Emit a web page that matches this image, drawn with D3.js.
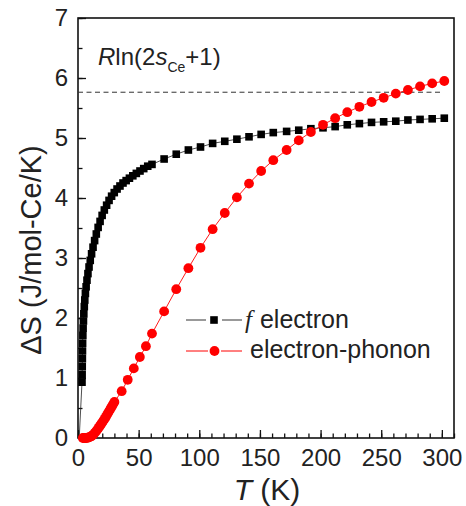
<!DOCTYPE html>
<html lang="en">
<head>
<meta charset="utf-8">
<script src="https://d3js.org/d3.v7.min.js"></script>
<style>
body { margin: 0; background: #fff; font-family: Arial, "Liberation Sans", sans-serif; }
.tick text { font-family: Arial, "Liberation Sans", sans-serif; fill: #222; }
</style>
</head>
<body>
<div id="chart"></div>
<script>
// f electron entropy (black squares)
var fElecT = [1, 3.3, 3.4, 3.5, 3.6, 3.7, 3.8, 4.0, 4.2, 4.5, 4.8, 5.2, 5.6, 6.1, 6.7, 7.4, 8.2, 9.1, 10.1,
  11.2, 12.4, 13.7, 15.1, 16.6, 18.2, 19.9, 21.7, 23.6, 25.6, 27.7, 29.9, 32.2, 34.6, 37.1, 39.7, 42.4,
  45.2, 48.1, 51.1, 54.2, 57.5, 61, 71, 81, 91, 101, 111, 121, 131, 141, 151, 161, 172, 182, 192, 202,
  212, 222, 232, 242, 252, 262, 272, 282, 292, 302];
var fElecS = [0, 0.93, 1.06, 1.19, 1.32, 1.45, 1.58, 1.71, 1.83, 1.95, 2.07, 2.19, 2.30, 2.41, 2.52, 2.63, 2.74, 2.85, 2.96,
  3.07, 3.18, 3.29, 3.40, 3.51, 3.61, 3.71, 3.80, 3.88, 3.96, 4.03, 4.09, 4.15, 4.20, 4.25, 4.29, 4.33,
  4.37, 4.41, 4.45, 4.49, 4.53, 4.56, 4.65, 4.73, 4.80, 4.85, 4.91, 4.945, 4.98, 5.02, 5.06, 5.09, 5.11, 5.13, 5.155, 5.17,
  5.19, 5.22, 5.24, 5.26, 5.27, 5.28, 5.30, 5.31, 5.32, 5.33];

// electron-phonon entropy (red circles)
var ePhonT = [4, 5, 6, 7, 8, 9, 10, 11, 12, 13, 14, 15, 16, 17, 18, 19, 20, 21, 22, 23, 24, 25, 26, 27, 28, 29, 30,
  36, 41, 46, 51, 56, 61, 71, 81, 91, 101, 111, 121, 131, 141, 151, 161, 172, 182, 192, 202, 212, 222,
  232, 242, 252, 262, 272, 282, 292, 302];
var ePhonS = [0, 0, 0, 0, 0.005, 0.01, 0.02, 0.03, 0.045, 0.065, 0.09, 0.115, 0.14, 0.17, 0.20, 0.23, 0.26, 0.29,
  0.32, 0.355, 0.39, 0.425, 0.46, 0.495, 0.53, 0.565, 0.60,
  0.78, 0.97, 1.16, 1.35, 1.53, 1.74, 2.11, 2.48, 2.83, 3.17, 3.48, 3.75, 4.01, 4.24, 4.45, 4.63, 4.80, 4.96,
  5.10, 5.22, 5.33, 5.43, 5.52, 5.60, 5.67, 5.74, 5.80, 5.86, 5.91, 5.95];

var rLn2 = 8.314 * Math.log(2);   // R ln(2 s_Ce + 1), s = 1/2
var xTicks = [0, 50, 100, 150, 200, 250, 300];
var yTicks = [0, 1, 2, 3, 4, 5, 6, 7];
var legendLabels = ["electron", "electron-phonon"];

var width = 466, height = 506;
var plotL = 78, plotR = 454, plotT = 18, plotB = 438;

var svg = d3.select("#chart").append("svg")
  .attr("width", width)
  .attr("height", height);

var x = d3.scaleLinear().domain([0, 310]).range([plotL, plotR]);
var y = d3.scaleLinear().domain([0, 7]).range([plotB, plotT]);

// minor ticks
svg.append("g")
  .attr("transform", "translate(0," + plotB + ")")
  .call(d3.axisBottom(x).tickValues(d3.range(0, 311, 10)).tickSizeInner(-4.5).tickSizeOuter(0).tickFormat(""))
  .call(function(g) { g.select(".domain").remove(); });
svg.append("g")
  .attr("transform", "translate(" + plotL + ",0)")
  .call(d3.axisLeft(y).tickValues(d3.range(0, 7.01, 0.5)).tickSizeInner(-4.5).tickSizeOuter(0).tickFormat(""))
  .call(function(g) { g.select(".domain").remove(); });

// major ticks + labels
var xAxis = svg.append("g")
  .attr("transform", "translate(0," + plotB + ")")
  .call(d3.axisBottom(x).tickValues(xTicks).tickSizeInner(-8).tickSizeOuter(0).tickPadding(11).tickFormat(d3.format("d")));
xAxis.select(".domain").remove();
xAxis.selectAll("text").style("font-size", "24px");

var yAxis = svg.append("g")
  .attr("transform", "translate(" + plotL + ",0)")
  .call(d3.axisLeft(y).tickValues(yTicks).tickSizeInner(-8).tickSizeOuter(0).tickPadding(10).tickFormat(d3.format("d")));
yAxis.select(".domain").remove();
yAxis.selectAll("text").style("font-size", "24px");

svg.selectAll(".tick line").attr("stroke", "#111").attr("stroke-width", 1.3);

// frame
svg.append("rect")
  .attr("x", plotL).attr("y", plotT)
  .attr("width", plotR - plotL).attr("height", plotB - plotT)
  .attr("fill", "none").attr("stroke", "#111").attr("stroke-width", 1.6);

// dashed limit line
svg.append("line")
  .attr("x1", x(0)).attr("x2", x(300))
  .attr("y1", y(rLn2)).attr("y2", y(rLn2))
  .attr("stroke", "#333").attr("stroke-width", 1)
  .attr("stroke-dasharray", "5,3.5");

var ann = svg.append("text")
  .attr("x", 98).attr("y", 65)
  .style("font-size", "24px").attr("fill", "#222");
ann.append("tspan").style("font-style", "italic").text("R");
ann.append("tspan").text("ln(2");
ann.append("tspan").style("font-style", "italic").text("s");
ann.append("tspan").attr("dy", 7).style("font-size", "14px").text("Ce");
ann.append("tspan").attr("dy", -7).text("+1)");

var fData = fElecT.map(function(t, i) { return [t, fElecS[i]]; });
var eData = ePhonT.map(function(t, i) { return [t, ePhonS[i]]; });

var line = d3.line()
  .x(function(d) { return x(d[0]); })
  .y(function(d) { return y(d[1]); });

// f electron
svg.append("path").datum(fData)
  .attr("d", line).attr("fill", "none")
  .attr("stroke", "#222").attr("stroke-width", 0.8);
var sq = 7.6;
svg.append("g").selectAll("rect")
  .data(fData.filter(function(d) { return d[1] > 0; }))
  .enter().append("rect")
  .attr("x", function(d) { return x(d[0]) - sq / 2; })
  .attr("y", function(d) { return y(d[1]) - sq / 2; })
  .attr("width", sq).attr("height", sq)
  .attr("fill", "#000");

// electron-phonon
svg.append("path").datum(eData)
  .attr("d", line).attr("fill", "none")
  .attr("stroke", "#f00").attr("stroke-width", 0.9);
svg.append("g").selectAll("circle")
  .data(eData)
  .enter().append("circle")
  .attr("cx", function(d) { return x(d[0]); })
  .attr("cy", function(d) { return y(d[1]); })
  .attr("r", 4.9)
  .attr("fill", "#f00");

// legend
var lg = svg.append("g");
lg.append("line").attr("x1", 186).attr("x2", 206).attr("y1", 320).attr("y2", 320).attr("stroke", "#555").attr("stroke-width", 1.2);
lg.append("line").attr("x1", 222).attr("x2", 242).attr("y1", 320).attr("y2", 320).attr("stroke", "#555").attr("stroke-width", 1.2);
lg.append("rect").attr("x", 214 - 3.8).attr("y", 320 - 3.8).attr("width", 7.6).attr("height", 7.6).attr("fill", "#000");
lg.append("line").attr("x1", 186).attr("x2", 208).attr("y1", 351).attr("y2", 351).attr("stroke", "#f00").attr("stroke-width", 1);
lg.append("line").attr("x1", 221).attr("x2", 242).attr("y1", 351).attr("y2", 351).attr("stroke", "#f00").attr("stroke-width", 1);
lg.append("circle").attr("cx", 214.5).attr("cy", 351).attr("r", 4.9).attr("fill", "#f00");

var t1 = lg.append("text").attr("x", 245).attr("y", 328).style("font-size", "25px").attr("fill", "#222");
t1.append("tspan").style("font-family", "'Liberation Serif', 'DejaVu Serif', serif").style("font-style", "italic").text("f");
t1.append("tspan").attr("dx", 8).text(legendLabels[0]);
lg.append("text").attr("x", 250).attr("y", 358).style("font-size", "25px").attr("fill", "#222").text(legendLabels[1]);

// axis titles
var yl = svg.append("text")
  .attr("transform", "translate(41," + 250 + ") rotate(-90)")
  .attr("text-anchor", "middle")
  .style("font-size", "29px").attr("fill", "#222");
yl.append("tspan").text("\u0394S (J/mol-Ce/K)");

var xl = svg.append("text")
  .attr("x", 267).attr("y", 500)
  .attr("text-anchor", "middle")
  .style("font-size", "30px").attr("fill", "#222");
xl.append("tspan").style("font-style", "italic").text("T");
xl.append("tspan").text(" (K)");
</script>
</body>
</html>
